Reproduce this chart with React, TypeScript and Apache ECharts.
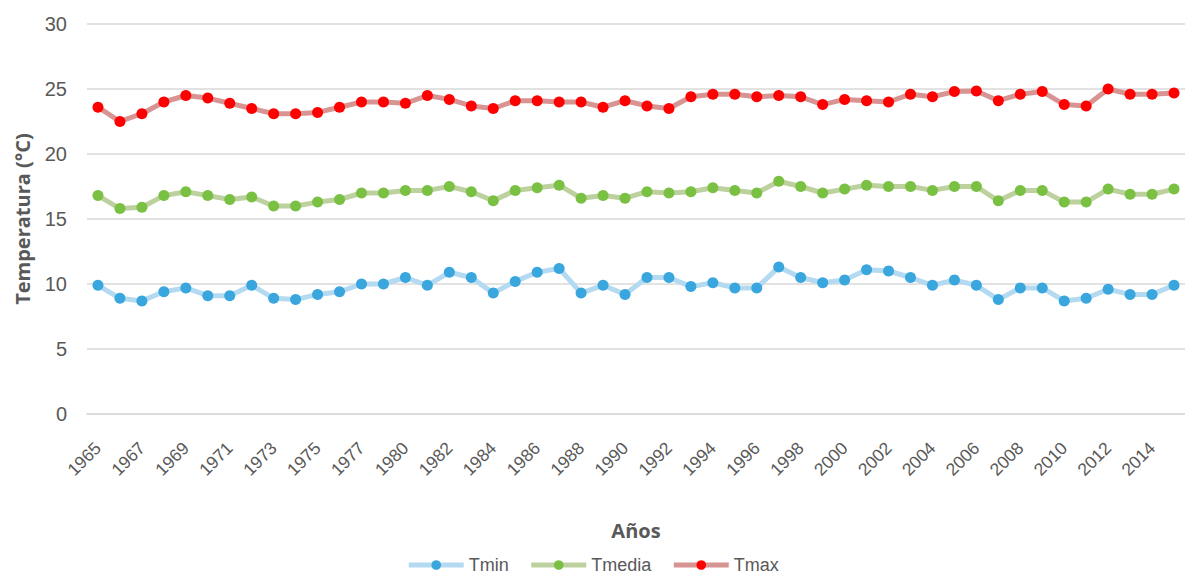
import React, { useEffect, useRef } from "react";
import * as echarts from "echarts";

const years = [
  "1965", "1966", "1967", "1968", "1969", "1970", "1971", "1972", "1973", "1974",
  "1975", "1976", "1977", "1979", "1980", "1981", "1982", "1983", "1984", "1985",
  "1986", "1987", "1988", "1989", "1990", "1991", "1992", "1993", "1994", "1995",
  "1996", "1997", "1998", "1999", "2000", "2001", "2002", "2003", "2004", "2005",
  "2006", "2007", "2008", "2009", "2010", "2011", "2012", "2013", "2014", "2015",
];

const tmin = [
  9.9, 8.9, 8.7, 9.4, 9.7, 9.1, 9.1, 9.9, 8.9, 8.8,
  9.2, 9.4, 10.0, 10.0, 10.5, 9.9, 10.9, 10.5, 9.3, 10.2,
  10.9, 11.2, 9.3, 9.9, 9.2, 10.5, 10.5, 9.8, 10.1, 9.7,
  9.7, 11.3, 10.5, 10.1, 10.3, 11.1, 11.0, 10.5, 9.9, 10.3,
  9.9, 8.8, 9.7, 9.7, 8.7, 8.9, 9.6, 9.2, 9.2, 9.9,
];

const tmedia = [
  16.8, 15.8, 15.9, 16.8, 17.1, 16.8, 16.5, 16.7, 16.0, 16.0,
  16.3, 16.5, 17.0, 17.0, 17.2, 17.2, 17.5, 17.1, 16.4, 17.2,
  17.4, 17.6, 16.6, 16.8, 16.6, 17.1, 17.0, 17.1, 17.4, 17.2,
  17.0, 17.9, 17.5, 17.0, 17.3, 17.6, 17.5, 17.5, 17.2, 17.5,
  17.5, 16.4, 17.2, 17.2, 16.3, 16.3, 17.3, 16.9, 16.9, 17.3,
];

const tmax = [
  23.6, 22.5, 23.1, 24.0, 24.5, 24.3, 23.9, 23.5, 23.1, 23.1,
  23.2, 23.6, 24.0, 24.0, 23.9, 24.5, 24.2, 23.7, 23.5, 24.1,
  24.1, 24.0, 24.0, 23.6, 24.1, 23.7, 23.5, 24.4, 24.6, 24.6,
  24.4, 24.5, 24.4, 23.8, 24.2, 24.1, 24.0, 24.6, 24.4, 24.8,
  24.85, 24.1, 24.6, 24.8, 23.8, 23.7, 25.0, 24.6, 24.6, 24.7,
];

const seriesNames = ["Tmin", "Tmedia", "Tmax"];
const markerColors = ["#3aa6de", "#7ac143", "#ff0000"];
const lineColors = ["#b3daf0", "#bdd19e", "#d89393"];

export default function App() {
  const ref = useRef<HTMLDivElement>(null);
  useEffect(() => {
    if (!ref.current) return;
    const chart = echarts.init(ref.current, undefined, { renderer: "svg" });
    const data = [tmin, tmedia, tmax];
    const font = "'Liberation Sans', Arial, sans-serif";
    const nameFont = "'Open Sans', 'Liberation Sans', sans-serif";
    chart.setOption({
      animation: false,
      backgroundColor: "#ffffff",
      textStyle: { fontFamily: font },
      grid: { left: 87, right: 0, top: 24, bottom: 164, containLabel: false },
      legend: {
        top: 555,
        left: "center",
        padding: 0,
        itemWidth: 55,
        itemHeight: 12,
        itemGap: 20,
        textStyle: { fontSize: 18, lineHeight: 20, color: "#595959", fontFamily: font },
        data: seriesNames.map((n, i) => ({
          name: n,
          itemStyle: { color: markerColors[i] },
          lineStyle: { color: lineColors[i], width: 5 },
        })),
      },
      xAxis: {
        type: "category",
        data: years,
        boundaryGap: true,
        name: "Años",
        nameLocation: "middle",
        nameGap: 106,
        nameTextStyle: { fontSize: 20, fontWeight: "bold", color: "#595959", fontFamily: nameFont },
        axisLine: { show: true, lineStyle: { color: "#d9d9d9", width: 1.5 } },
        axisTick: { show: false },
        axisLabel: {
          interval: 1,
          rotate: 45,
          fontSize: 17.5,
          color: "#595959",
          margin: 31,
        },
      },
      yAxis: {
        type: "value",
        min: 0,
        max: 30,
        interval: 5,
        name: "Temperatura (°C)",
        nameLocation: "middle",
        nameGap: 55,
        nameTextStyle: { fontSize: 20, fontWeight: "bold", color: "#595959", fontFamily: nameFont },
        axisLine: { show: false },
        axisTick: { show: false },
        axisLabel: { fontSize: 20, color: "#595959", margin: 20 },
        splitLine: { lineStyle: { color: "#d9d9d9", width: 1.5 } },
      },
      series: seriesNames.map((name, i) => ({
        name,
        type: "line",
        data: data[i],
        symbol: "circle",
        symbolSize: 11,
        lineStyle: { color: lineColors[i], width: 5 },
        itemStyle: { color: markerColors[i] },
        z: 2 + i,
      })),
    });
    return () => chart.dispose();
  }, []);
  return (
    <div
      ref={ref}
      style={{ position: "fixed", left: 0, top: 0, width: 1185, height: 578 }}
    />
  );
}
